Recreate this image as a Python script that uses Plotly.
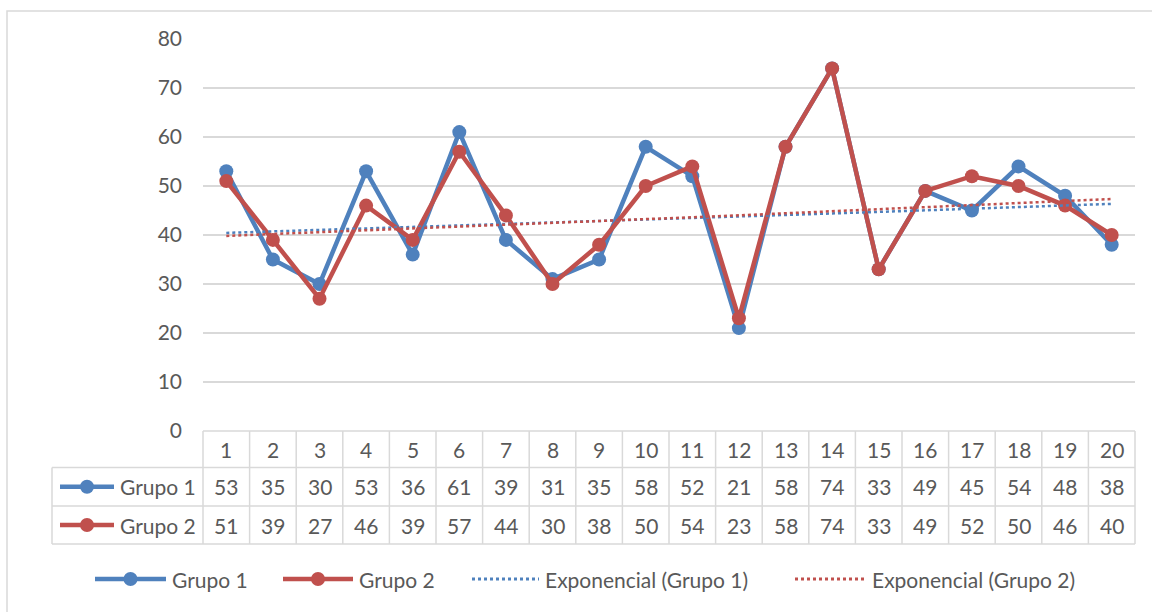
import numpy as np
import plotly.graph_objects as go

# ---- data ----
categories = list(range(1, 21))
grupo1 = [53, 35, 30, 53, 36, 61, 39, 31, 35, 58, 52, 21, 58, 74, 33, 49, 45, 54, 48, 38]
grupo2 = [51, 39, 27, 46, 39, 57, 44, 30, 38, 50, 54, 23, 58, 74, 33, 49, 52, 50, 46, 40]
series_names = ["Grupo 1", "Grupo 2"]
trend_names = ["Exponencial (Grupo 1)", "Exponencial (Grupo 2)"]
y_ticks = [0, 10, 20, 30, 40, 50, 60, 70, 80]

BLUE = "#4F81BD"
RED = "#C0504D"
GRID = "#D9D9D9"
TEXT = "#595959"
FONT = "Lato, Calibri, sans-serif"
FS = 21

W, H = 1152, 612
PL, PR, PT, PB = 203, 1135, 39, 431  # plot area in pixels


def px(x):
    return (x - PL) / (PR - PL)


def py(y):
    return (PB - y) / (PB - PT)


def exp_fit(vals):
    x = np.array(categories, dtype=float)
    b, ln_a = np.polyfit(x, np.log(np.array(vals, dtype=float)), 1)
    return list(np.exp(ln_a) * np.exp(b * x))


fig = go.Figure()

for vals, color, name in [(grupo1, BLUE, series_names[0]), (grupo2, RED, series_names[1])]:
    fig.add_trace(go.Scatter(
        x=categories, y=vals, mode="lines+markers", name=name,
        line=dict(color=color, width=4.5),
        marker=dict(color=color, size=14),
        showlegend=False, cliponaxis=False,
    ))

for vals, color, name in [(grupo1, BLUE, trend_names[0]), (grupo2, RED, trend_names[1])]:
    fig.add_trace(go.Scatter(
        x=categories, y=exp_fit(vals), mode="lines", name=name,
        line=dict(color=color, width=2.5, dash="dot"),
        showlegend=False,
    ))

shapes = []
annotations = []

# outer frame
shapes.append(dict(type="rect", xref="paper", yref="paper",
                   x0=px(7), x1=px(1160), y0=py(11), y1=py(620),
                   line=dict(color="#D9D9D9", width=1.5), layer="below"))

# ---- data table below the axis ----
row_y = [431, 467.5, 506, 544]
col_w = (PR - PL) / len(categories)
line_style = dict(color=GRID, width=1.5)
# horizontal lines
shapes.append(dict(type="line", xref="paper", yref="paper", x0=px(PL), x1=px(PR),
                   y0=py(row_y[0]), y1=py(row_y[0]), line=line_style))
for yy in row_y[1:]:
    shapes.append(dict(type="line", xref="paper", yref="paper", x0=px(52), x1=px(PR),
                       y0=py(yy), y1=py(yy), line=line_style))
# vertical lines
shapes.append(dict(type="line", xref="paper", yref="paper", x0=px(52), x1=px(52),
                   y0=py(row_y[1]), y1=py(row_y[3]), line=line_style))
for k in range(len(categories) + 1):
    xx = PL + k * col_w
    shapes.append(dict(type="line", xref="paper", yref="paper", x0=px(xx), x1=px(xx),
                       y0=py(row_y[0]), y1=py(row_y[3]), line=line_style))

cell_font = dict(family=FONT, size=FS, color=TEXT)
for i, c in enumerate(categories):
    xc = PL + (i + 0.5) * col_w
    for r, txt in enumerate([c, grupo1[i], grupo2[i]]):
        yc = (row_y[r] + row_y[r + 1]) / 2
        annotations.append(dict(xref="paper", yref="paper", x=px(xc), y=py(yc),
                                text=str(txt), showarrow=False, font=cell_font,
                                xanchor="center", yanchor="middle"))

# row headers with series key
for r, (name, color) in enumerate(zip(series_names, [BLUE, RED])):
    yc = (row_y[r + 1] + row_y[r + 2]) / 2
    shapes.append(dict(type="line", xref="paper", yref="paper", x0=px(60), x1=px(114),
                       y0=py(yc), y1=py(yc), line=dict(color=color, width=4.5)))
    shapes.append(dict(type="circle", xref="paper", yref="paper",
                       x0=px(80), x1=px(94), y0=py(yc - 7), y1=py(yc + 7),
                       fillcolor=color, line=dict(color=color, width=0)))
    annotations.append(dict(xref="paper", yref="paper", x=px(198), y=py(yc),
                            text=name, showarrow=False, font=cell_font,
                            xanchor="right", yanchor="middle"))

# ---- legend along the bottom ----
ly = 579
legend_items = [
    (series_names[0], BLUE, "solid", 95, 166),
    (series_names[1], RED, "solid", 283, 353),
    (trend_names[0], BLUE, "dot", 472, 539),
    (trend_names[1], RED, "dot", 795, 866),
]
for name, color, kind, x0, x1 in legend_items:
    if kind == "solid":
        shapes.append(dict(type="line", xref="paper", yref="paper", x0=px(x0), x1=px(x1),
                           y0=py(ly), y1=py(ly), line=dict(color=color, width=4.5)))
        xm = (x0 + x1) / 2
        shapes.append(dict(type="circle", xref="paper", yref="paper",
                           x0=px(xm - 7), x1=px(xm + 7), y0=py(ly - 7), y1=py(ly + 7),
                           fillcolor=color, line=dict(color=color, width=0)))
    else:
        shapes.append(dict(type="line", xref="paper", yref="paper", x0=px(x0), x1=px(x1),
                           y0=py(ly), y1=py(ly), line=dict(color=color, width=3, dash="dot")))
    annotations.append(dict(xref="paper", yref="paper", x=px(x1 + 4), y=py(ly),
                            text=name, showarrow=False, font=cell_font,
                            xanchor="left", yanchor="middle"))

fig.update_layout(
    width=W, height=H,
    margin=dict(l=PL, r=W - PR, t=PT, b=H - PB, pad=0),
    paper_bgcolor="white", plot_bgcolor="white",
    font=dict(family=FONT, size=FS, color=TEXT),
    showlegend=False,
    xaxis=dict(range=[0.5, 20.5], showticklabels=False, showgrid=False,
               zeroline=False, showline=False, ticks="", fixedrange=True),
    yaxis=dict(range=[0, 80], tickvals=y_ticks, showgrid=True, gridcolor=GRID,
               gridwidth=1.5, zeroline=False, showline=False, ticks="",
               ticklabelstandoff=20, tickfont=dict(family=FONT, size=FS, color=TEXT),
               fixedrange=True),
    shapes=shapes,
    annotations=annotations,
)

fig.write_html("out.html")
